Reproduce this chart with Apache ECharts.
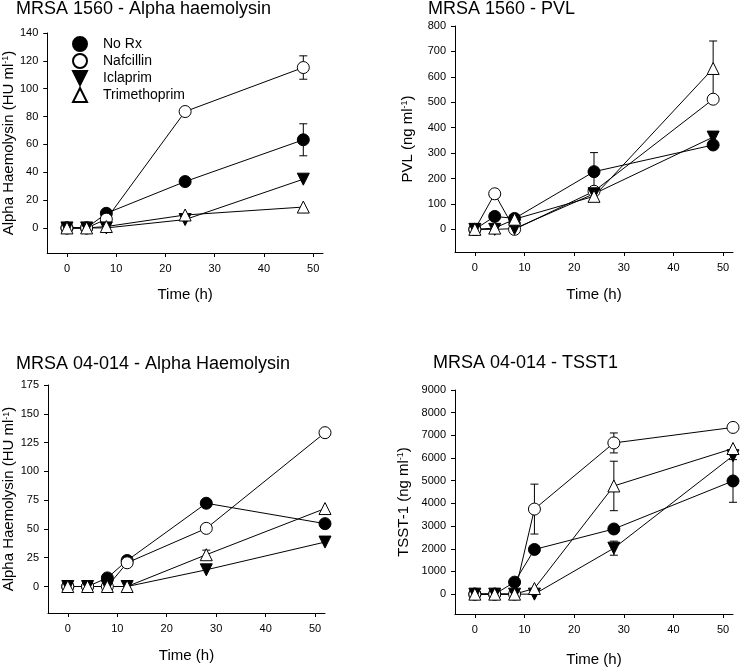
<!DOCTYPE html>
<html><head><meta charset="utf-8">
<script src="https://cdn.jsdelivr.net/npm/echarts@6/dist/echarts.min.js"></script>
<style>html,body{margin:0;padding:0;background:#fff}#c{width:740px;height:668px}</style>
</head><body><div id="c"></div>
<script>
// ---------- DATA ----------
const seriesNames = ['No Rx', 'Nafcillin', 'Iclaprim', 'Trimethoprim'];
const titles = ['MRSA 1560 - Alpha haemolysin', 'MRSA 1560 - PVL', 'MRSA 04-014 - Alpha Haemolysin', 'MRSA 04-014 - TSST1'];
const yNames = ['Alpha Haemolysin (HU ml{sup|-1})', 'PVL (ng ml{sup|-1})', 'Alpha Haemolysin (HU ml{sup|-1})', 'TSST-1 (ng ml{sup|-1})'];
const xName = 'Time (h)';

const timesTop = [0, 4, 8, 24, 48];
const timesBottom = [0, 4, 8, 12, 28, 52];
const xTickValues = [0, 10, 20, 30, 40, 50];

const yTicks1 = [0, 20, 40, 60, 80, 100, 120, 140];
const yTicks2 = [0, 100, 200, 300, 400, 500, 600, 700, 800];
const yTicks3 = [0, 25, 50, 75, 100, 125, 150, 175];
const yTicks4 = [0, 1000, 2000, 3000, 4000, 5000, 6000, 7000, 8000, 9000];

// Panel 1: MRSA 1560 alpha haemolysin
const p1NoRx = [0, 0, 10.5, 33.3, 63.3];
const p1Naf  = [0, 0, 6.3, 83.6, 115.2];
const p1Icl  = [0, 0, 0, 6, 35];
const p1Tmp  = [0, 0, 1, 9.3, 15];
const p1NoRxErr = [0, 0, 0, 0, 11.5];
const p1NafErr  = [0, 0, 0, 0, 8.4];
const p1IclErr  = [0, 0, 0, 0, 0];
const p1TmpErr  = [0, 0, 0, 0, 0];

// Panel 2: MRSA 1560 PVL
const p2NoRx = [0, 51, 43, 227, 332];
const p2Naf  = [0, 140, 0, 150, 512];
const p2Icl  = [0, 0, 3, 140, 363];
const p2Tmp  = [0, 5, 40, 130, 633];
const p2NoRxErr = [0, 0, 0, 75, 15];
const p2NafErr  = [0, 0, 0, 0, 0];
const p2IclErr  = [0, 0, 0, 0, 22];
const p2TmpErr  = [0, 0, 0, 0, 108];

// Panel 3: MRSA 04-014 alpha haemolysin
const p3NoRx = [0, 0, 7.5, 22.6, 72.3, 54.6];
const p3Naf  = [0, 0, 0, 20.6, 50.5, 133.6];
const p3Icl  = [0, 0, 0, 0, 14.5, 38.6];
const p3Tmp  = [0, 0, 0, 0, 27.6, 67.7];
const p3NoRxErr = [0, 0, 0, 0, 0, 0];
const p3NafErr  = [0, 0, 0, 0, 0, 0];
const p3IclErr  = [0, 0, 0, 0, 0, 0];
const p3TmpErr  = [0, 0, 0, 0, 4, 0];

// Panel 4: MRSA 04-014 TSST1
const p4NoRx = [0, 0, 530, 1970, 2873, 4990];
const p4Naf  = [0, 0, 0, 3750, 6666, 7350];
const p4Icl  = [0, 0, 0, 0, 2027, 6100];
const p4Tmp  = [0, 0, 0, 250, 4770, 6420];
const p4NoRxErr = [0, 0, 0, 0, 0, 940];
const p4NafErr  = [0, 0, 0, 1100, 440, 150];
const p4IclErr  = [0, 0, 0, 0, 310, 0];
const p4TmpErr  = [0, 0, 0, 0, 1090, 0];

// ---------- LAYOUT / STYLE ----------
const FONT = '"Liberation Sans", Arial, Helvetica, sans-serif';
const panels = [
  {times: timesTop, ticks: yTicks1, yMin: -18, yMax: 140, vals: [p1NoRx, p1Naf, p1Icl, p1Tmp], errs: [p1NoRxErr, p1NafErr, p1IclErr, p1TmpErr],
   grid: {left: 45, top: 33, width: 278, height: 220}, title: {left: 16, top: 0}, yGap: 23, xGap: 34},
  {times: timesTop, ticks: yTicks2, yMin: -89, yMax: 800, vals: [p2NoRx, p2Naf, p2Icl, p2Tmp], errs: [p2NoRxErr, p2NafErr, p2IclErr, p2TmpErr],
   grid: {left: 455, top: 26, width: 278, height: 226}, title: {left: 428, top: 0}, yGap: 40, xGap: 35},
  {times: timesBottom, ticks: yTicks3, yMin: -23, yMax: 175, vals: [p3NoRx, p3Naf, p3Icl, p3Tmp], errs: [p3NoRxErr, p3NafErr, p3IclErr, p3TmpErr],
   grid: {left: 48, top: 385, width: 277, height: 228}, title: {left: 16, top: 355}, yGap: 27, xGap: 35},
  {times: timesBottom, ticks: yTicks4, yMin: -875, yMax: 9000, vals: [p4NoRx, p4Naf, p4Icl, p4Tmp], errs: [p4NoRxErr, p4NafErr, p4IclErr, p4TmpErr],
   grid: {left: 455, top: 390, width: 278, height: 226}, title: {left: 433, top: 354}, yGap: 44, xGap: 38}
];

const symbols = ['circle', 'circle', 'path://M0,0L10,0L5,10Z', 'triangle'];
const fills = ['#000', '#fff', '#000', '#fff'];
const sizes = [12, 12, 12, 12];

const grids = [], xAxes = [], yAxes = [], titleOpts = [];
const markerSeries = [], lineSeries = [], errSeries = [];

function errRender(params, api) {
  const x = api.value(0), lo = api.value(1), hi = api.value(2);
  const a = api.coord([x, hi]), b = api.coord([x, lo]);
  const w = 4;
  const st = {stroke: '#000', lineWidth: 1};
  return {type: 'group', children: [
    {type: 'line', shape: {x1: a[0], y1: a[1], x2: b[0], y2: b[1]}, style: st},
    {type: 'line', shape: {x1: a[0] - w, y1: a[1], x2: a[0] + w, y2: a[1]}, style: st},
    {type: 'line', shape: {x1: b[0] - w, y1: b[1], x2: b[0] + w, y2: b[1]}, style: st}
  ]};
}

panels.forEach((p, i) => {
  grids.push(p.grid);
  titleOpts.push({text: titles[i], left: p.title.left, top: p.title.top, padding: 0,
    textStyle: {fontFamily: FONT, fontSize: 18, fontWeight: 'normal', color: '#000'}});
  xAxes.push({
    type: 'value', gridIndex: i, min: -4, max: 52,
    name: xName, nameLocation: 'middle', nameGap: p.xGap,
    nameTextStyle: {fontFamily: FONT, fontSize: 15, color: '#000'},
    axisLine: {show: true, onZero: false, lineStyle: {color: '#000', width: 1}},
    axisTick: {show: true, inside: false, length: 4, customValues: xTickValues, lineStyle: {color: '#000'}},
    axisLabel: {customValues: xTickValues, margin: 10, fontFamily: FONT, fontSize: 11, color: '#000',
      formatter: v => String(v)},
    splitLine: {show: false}
  });
  yAxes.push({
    type: 'value', gridIndex: i, min: p.yMin, max: p.yMax,
    name: yNames[i], nameLocation: 'middle', nameGap: p.yGap,
    nameTextStyle: {fontFamily: FONT, fontSize: 15, color: '#000',
      rich: {sup: {fontFamily: FONT, fontSize: 9, color: '#000', verticalAlign: 'top', lineHeight: 9}}},
    axisLine: {show: true, onZero: false, lineStyle: {color: '#000', width: 1}},
    axisTick: {show: true, inside: false, length: 4, customValues: p.ticks, lineStyle: {color: '#000'}},
    axisLabel: {customValues: p.ticks, margin: 9, fontFamily: FONT, fontSize: 11, color: '#000',
      formatter: v => String(v)},
    splitLine: {show: false}
  });
  seriesNames.forEach((nm, k) => {
    const pts = p.times.map((t, j) => [t, p.vals[k][j]]);
    lineSeries.push({
      type: 'line', name: nm + ' line ' + i, xAxisIndex: i, yAxisIndex: i, data: pts,
      symbol: 'none', clip: false, z: 2, silent: true,
      lineStyle: {color: '#000', width: 1}
    });
    const ed = [];
    p.times.forEach((t, j) => {
      const e = p.errs[k][j];
      if (e > 0) ed.push([t, p.vals[k][j] - e, p.vals[k][j] + e]);
    });
    if (ed.length) errSeries.push({
      type: 'custom', name: nm + ' err ' + i, xAxisIndex: i, yAxisIndex: i, data: ed,
      renderItem: errRender, encode: {x: 0, y: [1, 2]}, clip: false, z: 3, silent: true
    });
    markerSeries.push({
      type: 'scatter', name: nm, xAxisIndex: i, yAxisIndex: i, data: pts,
      symbol: symbols[k], symbolSize: sizes[k], symbolKeepAspect: true, clip: false, z: 4 + k * 0.01, silent: true,
      itemStyle: {color: fills[k], borderColor: '#000', borderWidth: 1, opacity: 1}
    });
  });
});

const chart = echarts.init(document.getElementById('c'), null, {renderer: 'canvas'});
chart.setOption({
  backgroundColor: '#fff',
  animation: false,
  title: titleOpts,
  legend: {
    data: seriesNames, orient: 'vertical', left: 72, top: 36, padding: 0,
    itemWidth: 14, itemHeight: 14, itemGap: 1, symbolKeepAspect: true,
    textStyle: {fontFamily: FONT, fontSize: 14, color: '#000', lineHeight: 14, padding: [0, 0, 0, 11]},
    selectedMode: false
  },
  grid: grids,
  xAxis: xAxes,
  yAxis: yAxes,
  series: markerSeries.concat(lineSeries, errSeries)
});
</script>
</body></html>
